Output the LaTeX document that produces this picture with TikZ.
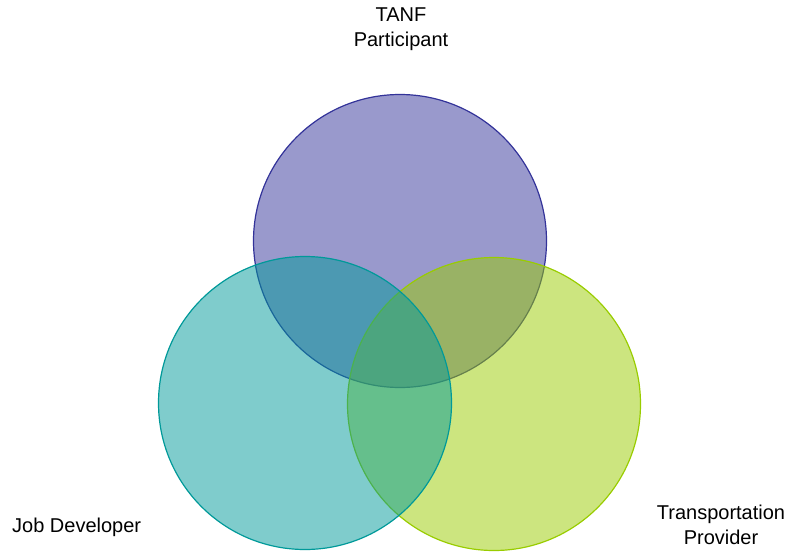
\documentclass[tikz,border=0pt]{standalone}
\usepackage{fontspec}
\setmainfont{Liberation Sans}
\definecolor{tanfpurple}{HTML}{333399}
\definecolor{jobteal}{HTML}{009999}
\definecolor{transgreen}{HTML}{99CC00}
\begin{document}
\begin{tikzpicture}[x=1pt,y=-1pt,
    ring/.style = {circle,draw=#1,fill=#1,fill opacity=0.5,line width=1.2pt,minimum size=293pt,inner sep=0pt,outer sep=0mm},
    caption/.style = {font=\fontsize{20}{25}\selectfont,align=center,inner sep=0pt}]
\useasboundingbox (0,0) rectangle (797,552);
% the three circles
\node[ring=tanfpurple] (participant) at (400,241) {};
\node[ring=transgreen] (provider)    at (494,404) {};
\node[ring=jobteal]    (developer)   at (305,403) {};
% captions
\node[caption,anchor=north]      (tanf)      at (401,8)   {TANF\\Participant};
\node[caption,anchor=north west] (jobdev)    at (12,518)  {Job Developer};
\node[caption,anchor=north]      (transport) at (721,505) {Transportation\\Provider};
\end{tikzpicture}
\end{document}
